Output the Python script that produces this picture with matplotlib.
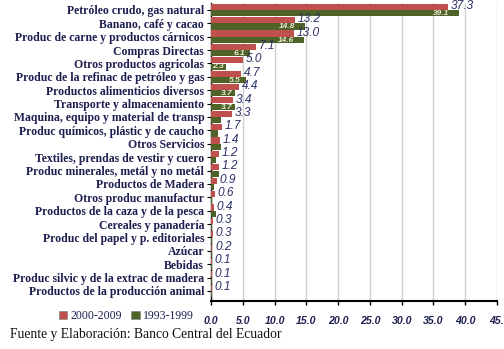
import numpy as np
import matplotlib.pyplot as plt
from matplotlib.patches import Patch

# -------- data --------
categories = [
    "Petróleo crudo, gas natural",
    "Banano, café y cacao",
    "Produc de carne y productos cárnicos",
    "Compras Directas",
    "Otros productos agricolas",
    "Produc de la refinac de petróleo y gas",
    "Productos alimenticios diversos",
    "Transporte y almacenamiento",
    "Maquina, equipo y material de transp",
    "Produc químicos, plástic y de caucho",
    "Otros Servicios",
    "Textiles, prendas de vestir y cuero",
    "Produc minerales, metál y no metál",
    "Productos de Madera",
    "Otros produc manufactur",
    "Productos de la caza y de la pesca",
    "Cereales y panadería",
    "Produc del papel y p. editoriales",
    "Azúcar",
    "Bebidas",
    "Produc silvic y de la extrac de madera",
    "Productos de la producción animal",
]
share_2000_2009 = [37.3, 13.2, 13.0, 7.1, 5.0, 4.7, 4.4, 3.4, 3.3, 1.7, 1.4,
                   1.2, 1.2, 0.9, 0.6, 0.4, 0.3, 0.3, 0.2, 0.1, 0.1, 0.1]
share_1993_1999 = [39.1, 14.8, 14.6, 6.1, 2.3, 5.5, 3.7, 3.7, 1.6, 1.1, 1.5,
                   0.8, 1.3, 0.5, 0.2, 0.8, 0.2, 0.2, 0.1, 0.1, 0.2, 0.1]
x_ticks = [0, 5, 10, 15, 20, 25, 30, 35, 40, 45]

RED = "#c0504d"
GREEN = "#4f6228"
NAVY = "#1c1f4f"

fig = plt.figure(figsize=(5.04, 3.49), dpi=100)
ax = fig.add_axes([0.419, 0.1375, 0.567, 0.853])

y = np.arange(len(categories))
h = 0.46
ax.barh(y - 0.24, share_2000_2009, height=h, color=RED, zorder=3)
ax.barh(y + 0.24, share_1993_1999, height=h, color=GREEN, zorder=3)

# labels for 2000-2009 (right of the red bars)
for yi, v in zip(y, share_2000_2009):
    ax.text(v + 0.4, yi - 0.3, f"{v:.1f}", fontsize=8.6, style="italic",
            color="#2a2f66", va="center", ha="left", family="Liberation Sans", zorder=4)

# labels for 1993-1999 (inside the green bars, only the big ones)
for yi, v in zip(y[:8], share_1993_1999[:8]):
    off = 1.6 if v > 10 else (0.8 if v > 5 else 0.3)
    ax.text(v - off, yi + 0.26, f"{v:.1f}", fontsize=6, style="italic",
            weight="bold", color="#e6ead2", va="center", ha="right",
            family="Liberation Sans", zorder=4)

ax.set_xlim(0, 45)
ax.set_ylim(21.75, -0.49)
ax.set_xticks(x_ticks)
ax.set_xticklabels([f"{t:.1f}" for t in x_ticks[:-1]] + ["45."],
                   fontsize=7.6, style="italic", weight="bold", color=NAVY,
                   family="Liberation Sans")
ax.set_yticks(y)
ax.set_yticklabels(categories, fontsize=8.5, weight="bold", color=NAVY,
                   family="Liberation Serif")
ax.tick_params(axis="y", length=3, width=0.8, pad=2)
ax.tick_params(axis="x", length=3, width=1, pad=8)
ax.grid(axis="x", color="#d0d0d0", linewidth=1, zorder=0)
for s in ["top", "right"]:
    ax.spines[s].set_visible(False)
ax.spines["left"].set_linewidth(1)
ax.spines["bottom"].set_linewidth(1.5)

handles = [Patch(facecolor=RED, edgecolor="#888888", linewidth=0.5),
           Patch(facecolor=GREEN, edgecolor="#888888", linewidth=0.5)]
fig.legend(handles, ["2000-2009", "1993-1999"], loc="center left",
           bbox_to_anchor=(0.095, 0.095), ncol=2, frameon=False,
           prop={"family": "Liberation Serif", "size": 8.5},
           handlelength=0.7, handleheight=0.7, handletextpad=0.3,
           columnspacing=0.8, labelcolor=NAVY)

fig.text(0.02, 0.022, "Fuente y Elaboración: Banco Central del Ecuador",
         fontsize=9.8, family="Liberation Serif", color="#111111",
         ha="left", va="bottom")

fig.savefig("out.png", dpi=100)
